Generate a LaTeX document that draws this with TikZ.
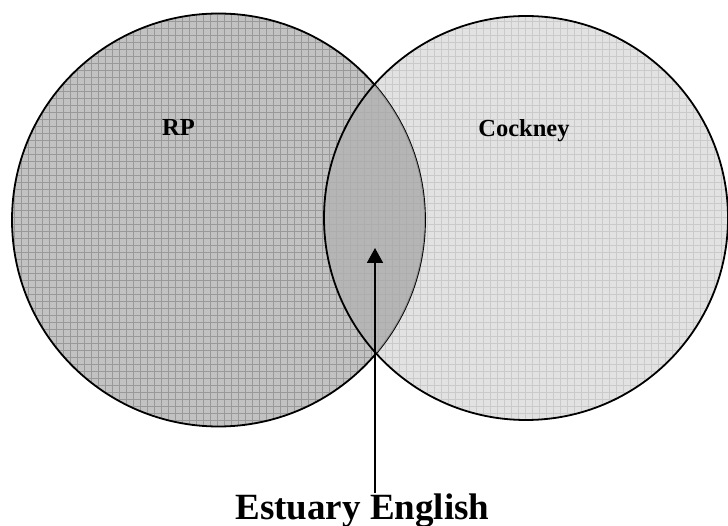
\documentclass[tikz,border=0pt]{standalone}
\usepackage{fontspec}
\setmainfont{Liberation Serif}
\usetikzlibrary{arrows.meta}
\definecolor{leftfill}{HTML}{C2C2C2}
\definecolor{leftgrid}{HTML}{999999}
\definecolor{rightfill}{HTML}{E2E2E2}
\definecolor{rightgrid}{HTML}{CACACA}
\definecolor{overfill}{HTML}{B2B2B2}
\tikzset{
  border/.style={draw=black, line width=1.8pt},
  lbl/.style={font=\bfseries\fontsize{24.5}{28}\selectfont, inner sep=0pt, anchor=base},
  biglbl/.style={font=\bfseries\fontsize{37}{42}\selectfont, inner sep=0pt, anchor=base},
  pointer/.style={line width=1.8pt, -{Triangle[width=16pt,length=15pt]}}
}
\begin{document}
\begin{tikzpicture}[x=1pt,y=-1pt]
\useasboundingbox (0,0) rectangle (728,526);
\coordinate (lc) at (218.5,220);
\coordinate (rc) at (526,218);
% right circle
\fill[rightfill] (rc) circle[radius=202];
\begin{scope}
  \clip (rc) circle[radius=202];
  \draw[rightgrid, line width=0.7pt, step=7pt] (300,0) grid (740,530);
\end{scope}
% left circle
\fill[leftfill] (lc) circle[radius=206.5];
\begin{scope}
  \clip (lc) circle[radius=206.5];
  \draw[leftgrid, line width=0.7pt, step=7pt] (0,0) grid (440,440);
\end{scope}
\draw[border] (lc) circle[radius=206.5];
% overlap
\begin{scope}
  \clip (lc) circle[radius=206.5];
  \fill[overfill, opacity=0.8] (rc) circle[radius=202];
\end{scope}
\draw[border] (rc) circle[radius=202];
% labels
\node[lbl] (rp) at (178.5,136) {RP};
\node[lbl] (cockney) at (524,137) {Cockney};
\node[biglbl] (est) at (362.5,519) {Estuary English};
\coordinate (tip) at (375,248);
\draw[pointer] (est.north -| tip) -- (tip);
\end{tikzpicture}
\end{document}
